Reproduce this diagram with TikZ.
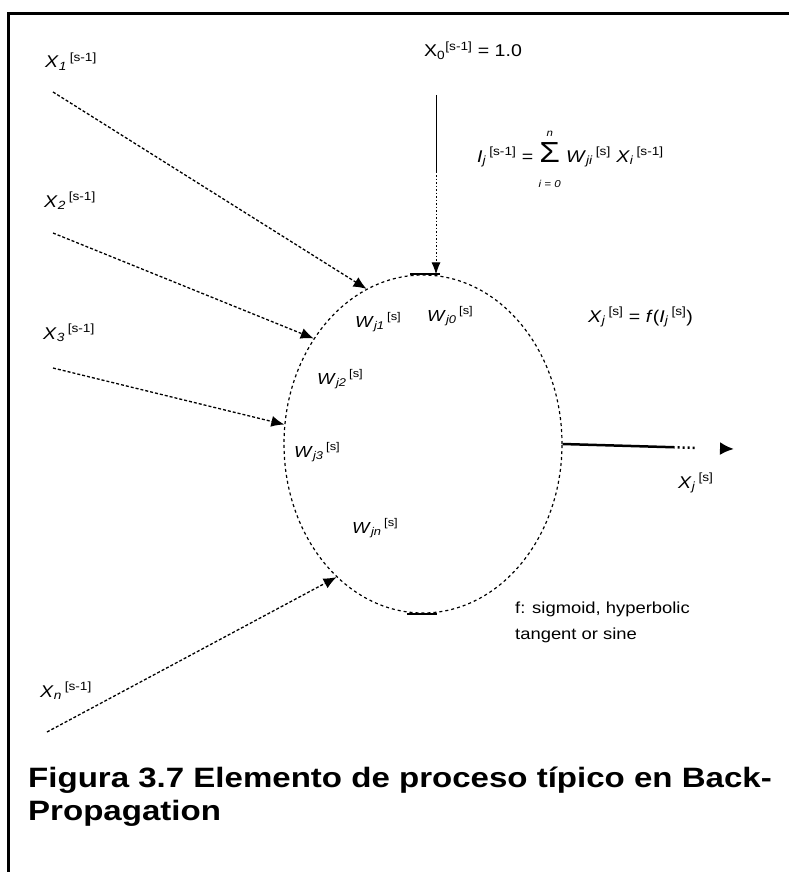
\documentclass[tikz,border=0pt]{standalone}
\usepackage{fontspec}
\setmainfont{Liberation Sans}[FakeStretch=1.15]
\newfontfamily\capfont{Liberation Sans}[FakeStretch=1.18]
\usetikzlibrary{shapes.geometric,arrows.meta}
\newcommand{\vlab}[3]{\textit{#1}\textsubscript{\textit{#2}}\,\textsuperscript{#3}}
\newcommand{\bigsigma}{$\mathop{\hbox{\fontsize{29}{29}\selectfont Σ}}\limits^{\hbox{\fontsize{10}{10}\selectfont\itshape n\rule[-4pt]{0pt}{4pt}}}_{\hbox{\rule{0pt}{24pt}\fontsize{10}{10}\selectfont\itshape i = 0}}$}
\begin{document}
\begin{tikzpicture}[x=1pt,y=-1pt,
  lbl/.style={font=\fontsize{17}{20}\selectfont, anchor=base west, inner sep=0pt},
  wlbl/.style={font=\fontsize{16}{19}\selectfont, anchor=base west, inner sep=0pt},
  note/.style={font=\fontsize{16}{19}\selectfont, anchor=base west, inner sep=0pt},
  caption/.style={font=\capfont\fontsize{28}{30}\selectfont\bfseries, anchor=base west, inner sep=0pt},
  inarrow/.style={densely dashed, line width=1.3pt, -{Latex[length=13pt,width=11pt]}},
  neuronstyle/.style={ellipse, draw, dashed, line width=1.2pt, minimum width=278pt, minimum height=338pt, inner sep=0pt},
  frameline/.style={line width=3.5pt}
]
\useasboundingbox (0,0) rectangle (789,872);
% frame
\draw[frameline] (8.5,872) -- (8.5,13.5) -- (789,13.5);

% neuron
\node[neuronstyle] (neuron) at (423,444) {};
\draw[line width=2pt] ([xshift=-13pt]neuron.north) -- ([xshift=17pt]neuron.north);
\draw[line width=2pt] ([xshift=-16pt]neuron.south) -- ([xshift=14pt]neuron.south);

% inputs
\node[lbl] (x1) at (45,68) {\vlab{X}{1}{[s-1]}};
\node[lbl] (x2) at (44,207) {\vlab{X}{2}{[s-1]}};
\node[lbl] (x3) at (43,339) {\vlab{X}{3}{[s-1]}};
\node[lbl] (xn) at (40,697) {\vlab{X}{n}{[s-1]}};
\coordinate (s1) at (53,92);
\coordinate (s2) at (53,233);
\coordinate (s3) at (53,368);
\coordinate (sn) at (47,732);
\draw[inarrow] (s1) -- (neuron.110.6);
\draw[inarrow] (s2) -- (neuron.136.8);
\draw[inarrow] (s3) -- (neuron.172.2);
\draw[inarrow] (sn) -- (neuron.237.5);

% bias input
\node[lbl] (x0) at (424,57) {X\textsubscript{0}\textsuperscript{[s-1]} = 1.0};
\coordinate (x0top) at (436,95);
\draw[line width=1pt, -{Latex[length=12pt,width=9pt]},
  dash pattern=on 78pt off 2pt on 1.5pt off 2pt on 1.5pt off 2pt on 1.5pt off 2pt on 1.5pt off 2pt on 1.5pt off 2pt on 1.5pt off 2pt on 1.5pt off 2pt on 1.5pt off 2pt on 1.5pt off 2pt on 1.5pt off 2pt on 1.5pt off 2pt on 1.5pt off 2pt on 1.5pt off 2pt on 1.5pt off 2pt on 1.5pt off 2pt on 1.5pt off 2pt on 1.5pt off 2pt on 1.5pt off 2pt on 1.5pt off 2pt on 1.5pt off 2pt on 1.5pt off 2pt on 1.5pt off 2pt on 1.5pt off 2pt on 1.5pt off 2pt on 1.5pt off 2pt on 1.5pt off 2pt on 1.5pt off 2pt on 1.5pt off 20pt]
  (x0top) -- (x0top |- neuron.north);

% formula
\node[lbl] (sumf) at (477,162)
  {\vlab{I}{j}{[s-1]} = \bigsigma\ \vlab{W}{ji}{[s]} \vlab{X}{i}{[s-1]}};

% weights
\node[wlbl] (w1) at (355,327) {\vlab{W}{j1}{[s]}};
\node[wlbl] (w0) at (427,321) {\vlab{W}{j0}{[s]}};
\node[wlbl] (w2) at (317,384) {\vlab{W}{j2}{[s]}};
\node[wlbl] (w3) at (294,457) {\vlab{W}{j3}{[s]}};
\node[wlbl] (wn) at (352,533) {\vlab{W}{jn}{[s]}};

% activation
\node[lbl] (act) at (588,322) {\vlab{X}{j}{[s]} = \textit{f}(\vlab{I}{j}{[s]})};

% output
\coordinate (outend) at (734,449);
\draw[line width=2.5pt, -{Latex[length=14pt,width=13pt]},
  dash pattern=on 112pt off 3pt on 2pt off 3pt on 2pt off 3pt on 2pt off 3pt on 2pt off 100pt]
  (neuron.east) -- (outend);
\node[lbl] (xj) at (678,488) {\vlab{X}{j}{[s]}};

% note
\node[note] (n1) at (515,613) {f: sigmoid, hyperbolic};
\node[note] (n2) at (515,639) {tangent or sine};

% caption
\node[caption] (cap1) at (28,787) {Figura 3.7 Elemento de proceso típico en Back-};
\node[caption] (cap2) at (28,820) {Propagation};
\end{tikzpicture}
\end{document}
